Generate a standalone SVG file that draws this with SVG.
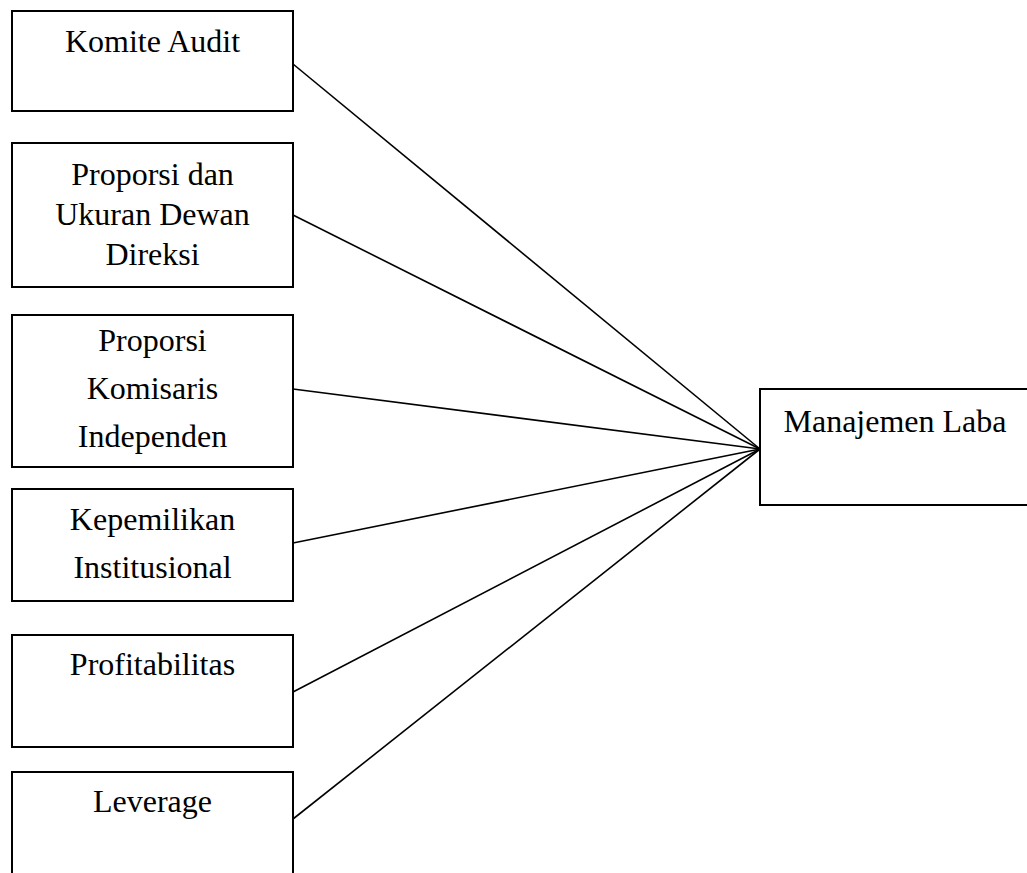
<svg xmlns="http://www.w3.org/2000/svg" width="1027" height="873" viewBox="0 0 1027 873">
<style>
.box{fill:#fff;stroke:#000;stroke-width:2}
.t{font-family:"Liberation Serif","Times New Roman",serif;font-size:32px;fill:#000;text-anchor:middle}
.c{stroke:#000;stroke-width:1.6;fill:none}
</style>
<rect width="1027" height="873" fill="#fff"/>
<g id="connectors">
<line class="c" x1="293" y1="64" x2="760" y2="449"/>
<line class="c" x1="293" y1="215" x2="760" y2="449"/>
<line class="c" x1="293" y1="389" x2="760" y2="449"/>
<line class="c" x1="293" y1="543" x2="760" y2="449"/>
<line class="c" x1="293" y1="692" x2="760" y2="449"/>
<line class="c" x1="293" y1="819" x2="760" y2="449"/>
</g>
<g id="komite-audit">
<rect class="box" x="12" y="11" width="281" height="100"/>
<text class="t" x="152.5" y="52">Komite Audit</text>
</g>
<g id="dewan-direksi">
<rect class="box" x="12" y="143" width="281" height="144"/>
<text class="t" x="152.5" y="185">Proporsi dan</text>
<text class="t" x="152.5" y="225">Ukuran Dewan</text>
<text class="t" x="152.5" y="265">Direksi</text>
</g>
<g id="komisaris-independen">
<rect class="box" x="12" y="315" width="281" height="152"/>
<text class="t" x="152.5" y="351">Proporsi</text>
<text class="t" x="152.5" y="399">Komisaris</text>
<text class="t" x="152.5" y="447">Independen</text>
</g>
<g id="kepemilikan-institusional">
<rect class="box" x="12" y="489" width="281" height="112"/>
<text class="t" x="152.5" y="530">Kepemilikan</text>
<text class="t" x="152.5" y="578">Institusional</text>
</g>
<g id="profitabilitas">
<rect class="box" x="12" y="635" width="281" height="112"/>
<text class="t" x="152.5" y="675">Profitabilitas</text>
</g>
<g id="leverage">
<rect class="box" x="12" y="772" width="281" height="120"/>
<text class="t" x="152.5" y="812">Leverage</text>
</g>
<g id="manajemen-laba">
<rect class="box" x="760" y="389" width="270" height="116"/>
<text class="t" x="895" y="432">Manajemen Laba</text>
</g>
</svg>
